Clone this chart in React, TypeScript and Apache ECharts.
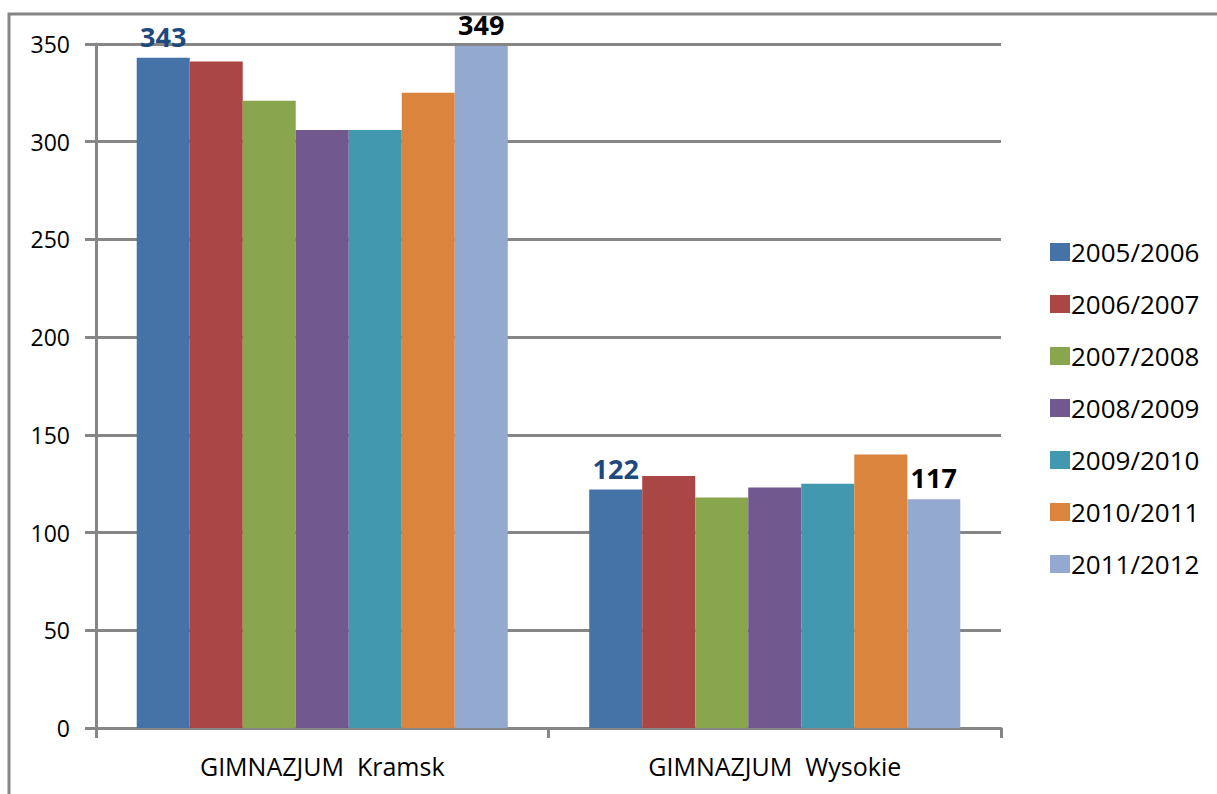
import React, { useEffect, useRef } from "react";
import * as echarts from "echarts";

const categories = ["GIMNAZJUM  Kramsk", "GIMNAZJUM  Wysokie"];
const seriesNames = ["2005/2006", "2006/2007", "2007/2008", "2008/2009", "2009/2010", "2010/2011", "2011/2012"];
const s2005 = [343, 122];
const s2006 = [341, 129];
const s2007 = [321, 118];
const s2008 = [306, 123];
const s2009 = [306, 125];
const s2010 = [325, 140];
const s2011 = [349, 117];
const yTicks = [0, 50, 100, 150, 200, 250, 300, 350];

const colors = ["#4572A7", "#AA4643", "#89A54E", "#71588F", "#4198AF", "#DB843D", "#93A9CF"];
const FONT = "'Open Sans', 'Noto Sans', sans-serif";

export default function App() {
  const ref = useRef<HTMLDivElement>(null);
  useEffect(() => {
    document.body.style.margin = "0";
    const chart = echarts.init(ref.current!, null, { renderer: "svg" });
    const all = [s2005, s2006, s2007, s2008, s2009, s2010, s2011];
    const series = all.map((d, i) => ({
      name: seriesNames[i],
      type: "bar",
      data: d,
      barGap: "0%",
      barCategoryGap: "18%",
      itemStyle: { color: colors[i] },
      label: {
        show: i === 0 || i === 6,
        position: "top",
        distance: 8,
        fontFamily: FONT,
        fontWeight: "bold",
        fontSize: 27,
        color: i === 0 ? "#1F497D" : "#000000",
      },
    }));
    chart.setOption({
      animation: false,
      backgroundColor: "#ffffff",
      textStyle: { fontFamily: FONT },
      graphic: [
        {
          type: "rect",
          shape: { x: 9, y: 14, width: 1400, height: 1000 },
          style: { fill: "none", stroke: "#868686", lineWidth: 3 },
          silent: true,
          z: -10,
        },
      ],
      legend: {
        orient: "vertical",
        left: 1045,
        top: 234,
        itemWidth: 20,
        itemHeight: 18,
        itemGap: 26,
        icon: "rect",
        textStyle: { fontFamily: FONT, fontSize: 26, color: "#000", padding: [0, 0, 0, -4] },
        data: seriesNames,
      },
      grid: { left: 96, right: 216, top: 44, bottom: 66, containLabel: false },
      xAxis: {
        type: "category",
        data: categories,
        axisLine: { show: true, lineStyle: { color: "#868686", width: 3 } },
        axisTick: { show: true, length: 10, lineStyle: { color: "#868686", width: 3 } },
        axisLabel: { fontFamily: FONT, fontSize: 25, color: "#000", margin: 25 },
      },
      yAxis: {
        type: "value",
        min: 0,
        max: 350,
        interval: 50,
        axisLine: { show: true, lineStyle: { color: "#868686", width: 3 } },
        axisTick: { show: true, length: 11, lineStyle: { color: "#868686", width: 3 } },
        axisLabel: {
          fontFamily: FONT,
          fontSize: 23,
          color: "#000",
          margin: 26,
          formatter: (v: number) => (yTicks.includes(v) ? String(v) : ""),
        },
        splitLine: { show: true, lineStyle: { color: "#868686", width: 3 } },
      },
      series,
    });
    return () => chart.dispose();
  }, []);
  return <div ref={ref} style={{ width: 1217, height: 794 }} />;
}
